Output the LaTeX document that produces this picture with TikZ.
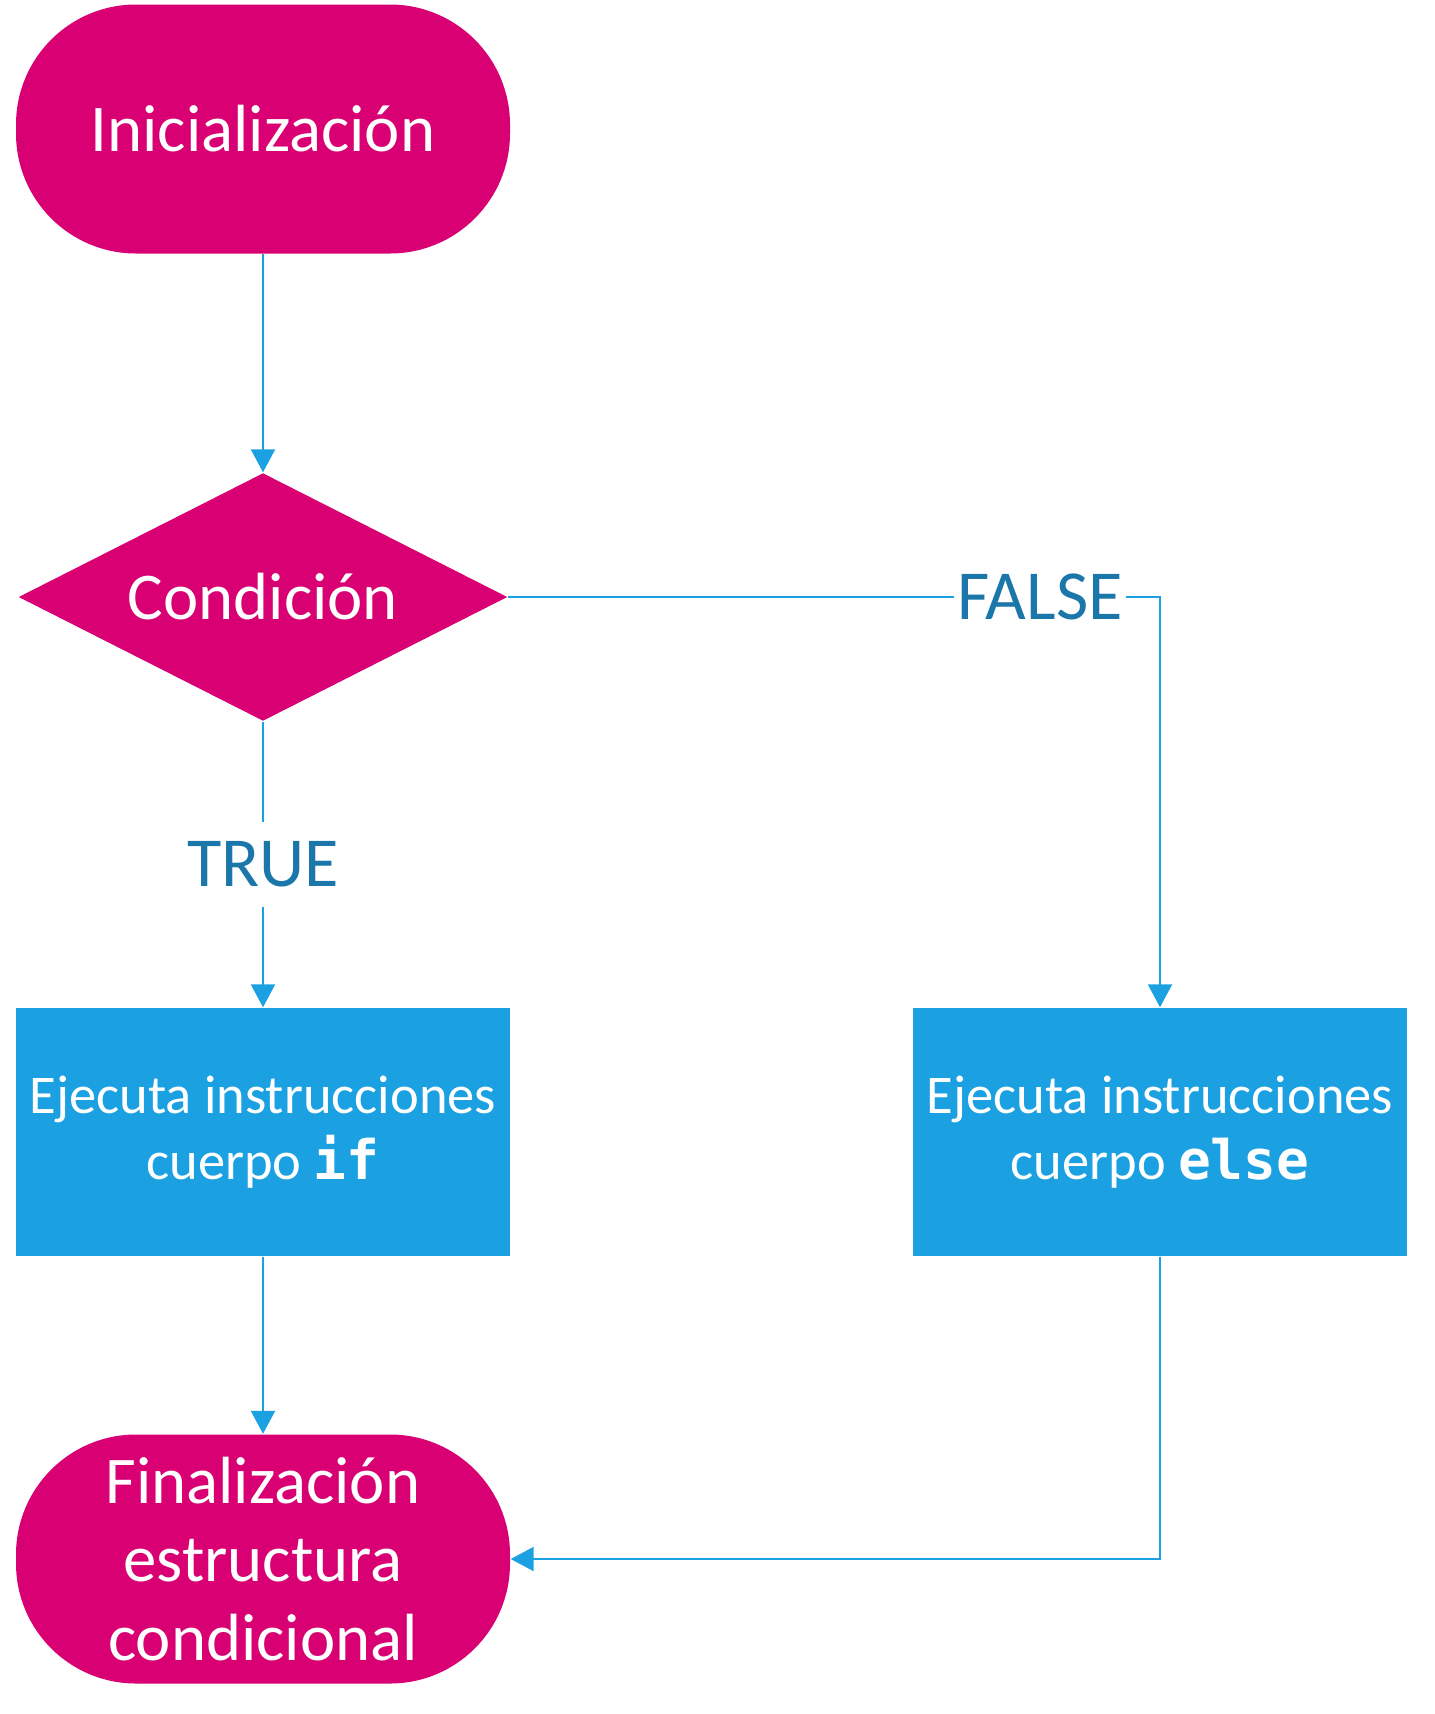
\documentclass[tikz,border=0pt]{standalone}
\usepackage{fontspec}
\setmainfont{Carlito}
\newfontfamily\codefont{DejaVu Sans Mono}
\usetikzlibrary{shapes.geometric,arrows.meta}

\definecolor{magenta}{HTML}{D80073}
\definecolor{azul}{HTML}{1BA1E2}
\definecolor{azultexto}{HTML}{1B76A9}

\tikzset{
  terminal/.style={draw=none,fill=magenta,text=white,rectangle,rounded corners=1.2cm,
    minimum width=4.94cm,minimum height=2.49cm,inner sep=0pt,align=center,
    font=\fontsize{19}{22.4}\selectfont},
  decision/.style={draw=none,fill=magenta,text=white,diamond,aspect=1.97,
    minimum width=4.89cm,minimum height=2.48cm,inner sep=0pt,
    font=\fontsize{19}{22.4}\selectfont},
  process/.style={draw=none,fill=azul,text=white,rectangle,
    minimum width=4.94cm,minimum height=2.48cm,inner sep=0pt,align=center,
    font=\fontsize{15.5}{18.7}\selectfont},
  flecha/.style={azul,line width=0.6pt,-{Triangle[width=0.24cm,length=0.23cm]}},
  etiqueta/.style={fill=white,text=azultexto,inner xsep=0.03cm,inner ysep=0.2cm,
    font=\fontsize{20}{24}\selectfont}
}

\begin{document}
\begin{tikzpicture}[x=1cm,y=1cm]
\useasboundingbox (0,0) rectangle (14.35,-17.14);

\node[terminal] (inicio) at (2.63,-1.29) {Inicialización};
\node[decision] (cond) at (2.63,-5.97) {Condición};
\node[process] (siif) at (2.63,-11.32) {Ejecuta instrucciones\\cuerpo {\codefont\bfseries if}};
\node[process] (sielse) at (11.60,-11.32) {Ejecuta instrucciones\\cuerpo {\codefont\bfseries else}};
\node[terminal] (fin) at (2.63,-15.59) {Finalización\\estructura\\condicional};

\draw[flecha] (inicio) -- (cond);
\draw[flecha] (cond) -- node[etiqueta] {TRUE} (siif);
\draw[flecha] (cond.east) -| node[etiqueta,pos=0.408] {FALSE} (sielse);
\draw[flecha] (siif) -- (fin);
\draw[flecha] (sielse) |- (fin);

\end{tikzpicture}
\end{document}
